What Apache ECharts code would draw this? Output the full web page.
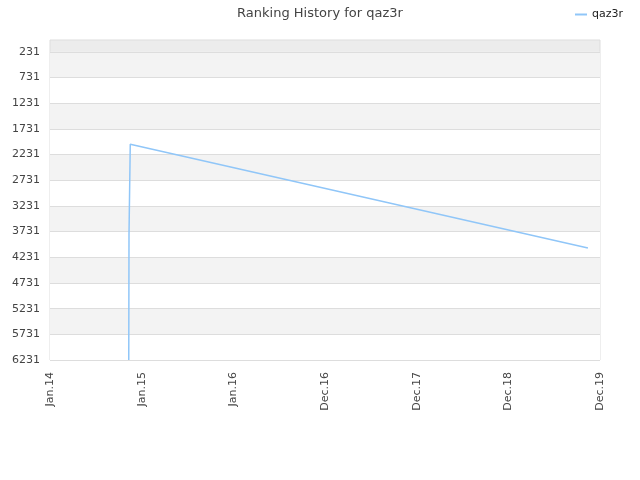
<!DOCTYPE html>
<html><head><meta charset="utf-8">
<script src="https://cdn.jsdelivr.net/npm/echarts@6/dist/echarts.min.js"></script>
<style>html,body{margin:0;padding:0;background:#fff}#c{width:640px;height:480px}</style>
</head><body><div id="c"></div>
<script>
var title = 'Ranking History for qaz3r';
var seriesName = 'qaz3r';
var dates = ['2014-11-10', '2014-11-11', '2014-11-15', '2014-11-16', '2019-11-09'];
var ranks = [6231, 3790, 3780, 2030, 4050];
var yTicks = [231, 731, 1231, 1731, 2231, 2731, 3231, 3731, 4231, 4731, 5231, 5731, 6231];
var xTickLabels = ['Jan.14', 'Jan.15', 'Jan.16', 'Dec.16', 'Dec.17', 'Dec.18', 'Dec.19'];
var xStart = '2014-01-01', xEnd = '2019-12-27';

var t0 = Date.parse(xStart + 'T00:00:00Z'), t1 = Date.parse(xEnd + 'T00:00:00Z');
var step = (t1 - t0) / (xTickLabels.length - 1);
var xTicks = xTickLabels.map(function (_, i) { return t0 + i * step; });
var data = dates.map(function (d, i) { return [Date.parse(d + 'T00:00:00Z'), ranks[i]]; });

var chart = echarts.init(document.getElementById('c'));
chart.setOption({
  animation: false,
  textStyle: { fontFamily: 'DejaVu Sans' },
  title: { text: title, left: 'center', top: 2, textStyle: { fontSize: 13, fontWeight: 'normal', color: '#444', fontFamily: 'DejaVu Sans' } },
  legend: { right: 12, top: 4, itemWidth: 12, itemHeight: 2, icon: 'rect', data: [seriesName],
    textStyle: { fontSize: 11, color: '#222', fontFamily: 'DejaVu Sans' } },
  grid: { left: 50, right: 40, top: 40, bottom: 120, show: true, backgroundColor: '#ececec', borderColor: '#dddddd', borderWidth: 1 },
  xAxis: {
    type: 'value', min: t0, max: t1,
    axisLine: { show: false }, axisTick: { show: false, customValues: xTicks },
    splitLine: { show: false },
    axisLabel: { customValues: xTicks, rotate: 90, fontSize: 11, color: '#444', margin: 12,
      formatter: function (v) {
        var best = 0;
        for (var i = 1; i < xTicks.length; i++) if (Math.abs(xTicks[i] - v) < Math.abs(xTicks[best] - v)) best = i;
        return xTickLabels[best];
      } }
  },
  yAxis: {
    type: 'value', inverse: true, min: 0, max: 6231,
    axisLine: { show: false }, axisTick: { show: false, customValues: yTicks },
    axisLabel: { customValues: yTicks, fontSize: 11, color: '#444', margin: 10,
      formatter: function (v) { return String(v); } },
    splitLine: { show: true, lineStyle: { color: '#dddddd', width: 1 } },
    splitArea: { show: true, areaStyle: { color: ['#f3f3f3', '#ffffff'] } }
  },
  series: [{
    name: seriesName, type: 'line', data: data, showSymbol: false, symbol: 'none',
    lineStyle: { color: '#90c6f8', width: 1.5 }, itemStyle: { color: '#90c6f8' }
  }]
});
</script></body></html>
